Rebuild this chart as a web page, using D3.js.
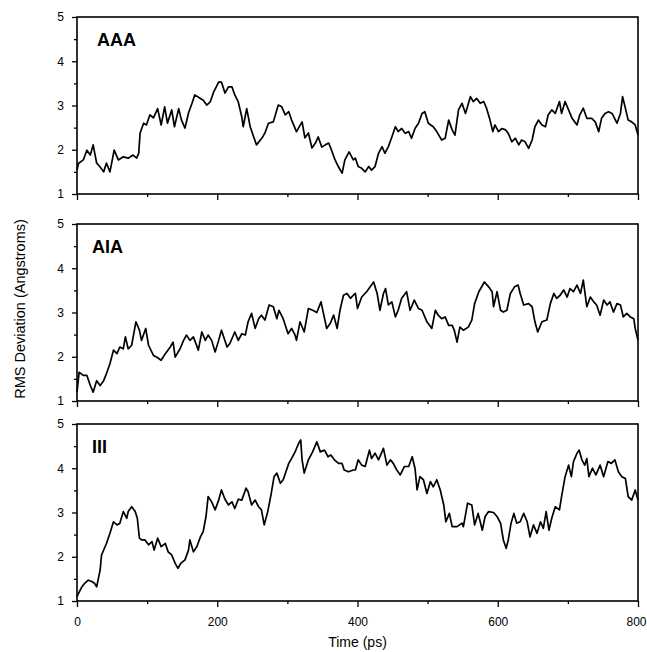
<!DOCTYPE html>
<html>
<head>
<meta charset="utf-8">
<script src="https://cdn.jsdelivr.net/npm/d3@7"></script>
<style>
  body { margin: 0; background: #fff; }
  svg { display: block; font-family: "Liberation Sans", Arial, Helvetica, sans-serif; }
  .axis path { display: none; }
  .axis line { stroke: #000; stroke-width: 1.3; }
  .axis text { font-size: 12px; fill: #000; }
</style>
</head>
<body>
<svg id="chart" width="647" height="652"></svg>
<script>
// RMS deviation traces (time in ps, RMSD in angstroms)
const timeAAA = [0,2,9,14,19,23,28,33,38,42,47,53,59,66,73,80,85,88,90,95,99,104,109,115,120,125,129,135,139,145,149,154,159,164,168,176,180,185,190,195,202,206,211,216,221,225,230,235,237,242,247,252,256,264,268,273,280,287,292,297,302,306,313,321,325,330,335,340,344,349,354,359,363,368,373,378,382,388,394,
  397,401,406,411,416,420,425,430,435,439,444,449,454,458,463,468,473,477,482,487,492,496,501,508,513,520,525,530,535,539,544,549,554,561,565,570,575,580,584,589,593,596,601,606,611,615,620,625,630,634,639,644,649,653,658,663,668,672,677,682,688,691,696,701,706,713,717,722,727,734,739,744,748,753,758,763,770,775,778,782,786,791,796,800];
const rmsAAA = [1.54,1.69,1.77,1.99,1.88,2.11,1.70,1.61,1.50,1.70,1.50,1.99,1.77,1.84,1.81,1.88,1.81,1.92,2.38,2.60,2.56,2.79,2.72,2.93,2.56,2.97,2.60,2.90,2.52,2.93,2.67,2.49,2.83,3.05,3.24,3.16,3.12,3.01,3.08,3.31,3.53,3.53,3.28,3.42,3.42,3.24,3.08,2.74,2.52,2.93,2.52,2.29,2.11,2.27,2.38,2.60,2.63,3.01,2.97,2.79,2.86,2.67,2.41,2.63,2.27,2.38,2.04,2.15,2.29,2.06,2.11,2.15,1.99,1.77,1.61,1.47,1.77,1.95,1.77,
  1.81,1.62,1.58,1.50,1.62,1.54,1.62,1.92,2.07,1.92,2.07,2.29,2.52,2.41,2.48,2.37,2.41,2.26,2.48,2.60,2.82,2.86,2.60,2.52,2.41,2.22,2.26,2.67,2.45,2.33,2.90,3.05,2.82,3.20,3.09,3.16,3.05,3.09,2.94,2.67,2.41,2.56,2.41,2.48,2.45,2.37,2.18,2.26,2.11,2.22,2.18,2.03,2.22,2.52,2.67,2.56,2.52,2.79,2.90,2.82,3.09,2.82,3.09,2.90,2.71,2.56,2.79,2.94,2.71,2.71,2.63,2.41,2.71,2.82,2.86,2.82,2.60,2.82,3.20,2.94,2.67,2.63,2.56,2.33];

const timeAIA = [0,3,9,14,19,23,28,33,38,42,47,52,57,61,66,69,73,78,84,89,92,98,102,109,114,120,126,133,137,140,147,152,156,161,166,173,178,183,187,192,197,202,206,214,218,225,230,235,240,244,249,254,259,263,268,274,280,285,288,294,301,306,311,313,318,324,330,336,342,348,352,356,361,366,371,375,380,385,390,394,
  397,400,406,413,423,428,432,437,440,444,449,454,458,463,470,475,481,487,492,499,506,511,515,520,525,530,535,538,542,546,551,558,563,567,573,581,587,592,594,599,604,608,613,618,624,629,632,637,644,649,653,657,663,670,675,680,684,689,694,699,703,708,713,718,722,727,732,737,741,746,751,756,760,765,770,775,779,784,789,794,796,800];
const rmsAIA = [1.20,1.65,1.58,1.58,1.35,1.20,1.46,1.35,1.46,1.62,1.84,2.15,2.07,2.22,2.18,2.45,2.18,2.26,2.79,2.60,2.37,2.64,2.26,2.03,1.99,1.92,2.07,2.22,2.33,1.99,2.18,2.37,2.49,2.37,2.45,2.15,2.56,2.37,2.49,2.37,2.11,2.37,2.60,2.22,2.30,2.56,2.37,2.52,2.49,2.79,2.98,2.64,2.86,2.94,2.83,3.17,3.13,2.86,3.05,2.86,2.52,2.64,2.49,2.37,2.79,2.56,3.09,3.05,3.00,3.24,2.94,2.64,2.75,2.94,2.64,3.05,3.39,3.43,3.32,3.39,
  3.43,3.09,3.35,3.47,3.69,3.43,3.05,3.43,3.54,3.17,3.24,2.90,3.05,3.32,3.47,3.05,3.28,3.09,3.05,2.79,2.64,3.05,2.94,2.86,2.90,2.71,2.71,2.60,2.33,2.67,2.60,2.67,2.83,3.20,3.47,3.69,3.58,3.47,3.13,3.47,3.05,3.01,3.05,3.43,3.58,3.62,3.43,3.17,3.20,3.13,2.79,2.56,2.79,2.83,3.20,3.43,3.32,3.39,3.51,3.35,3.54,3.47,3.62,3.43,3.73,3.13,3.35,3.24,3.17,2.94,3.28,3.17,3.24,3.01,3.20,3.17,2.90,2.98,2.90,2.86,2.64,2.37];

const timeIII = [0,2,7,11,16,21,25,28,33,35,42,47,52,57,61,66,71,73,78,83,86,89,92,97,102,107,110,115,120,126,130,135,140,144,148,154,159,161,166,171,176,180,184,187,192,197,202,206,211,216,221,225,230,235,241,244,249,254,259,263,267,272,277,281,285,290,294,302,306,311,316,319,321,324,330,336,342,347,353,358,362,367,373,378,381,387,394,
  397,401,406,411,417,420,425,430,437,442,447,451,456,461,467,473,478,482,485,489,494,499,504,508,513,518,523,526,531,535,542,549,551,557,563,567,572,575,578,582,587,594,599,604,608,612,615,619,623,627,632,637,642,646,651,656,661,665,669,673,677,682,688,691,696,701,705,708,713,716,720,724,727,730,735,740,746,751,757,762,767,772,777,782,786,791,796,800];
const rmsIII = [1.10,1.17,1.32,1.40,1.47,1.44,1.40,1.32,1.70,2.04,2.30,2.53,2.79,2.72,2.75,3.02,2.87,3.02,3.13,3.02,2.87,2.42,2.38,2.38,2.27,2.34,2.15,2.42,2.23,2.30,2.11,2.04,1.85,1.74,1.85,1.93,2.15,2.38,2.11,2.23,2.45,2.57,2.91,3.36,3.24,3.06,3.28,3.51,3.30,3.17,3.24,3.09,3.30,3.28,3.55,3.47,3.17,3.28,3.13,3.06,2.72,3.02,3.43,3.81,3.89,3.66,3.74,4.11,4.22,4.37,4.56,4.64,4.19,3.89,4.19,4.37,4.60,4.37,4.41,4.26,4.30,4.19,4.11,4.11,3.96,3.92,3.96,
  3.96,4.19,4.07,4.04,4.41,4.22,4.34,4.19,4.45,4.07,4.19,4.11,3.96,3.85,4.04,4.04,4.26,4.00,3.51,3.81,3.74,3.43,3.70,3.58,3.74,3.51,3.17,2.79,2.98,2.68,2.68,2.76,2.68,3.21,3.17,2.72,2.98,2.79,2.60,2.91,3.02,3.00,2.91,2.76,2.38,2.19,2.38,2.76,2.98,2.76,2.79,2.98,2.79,2.45,2.72,2.53,2.79,2.64,3.02,2.60,2.87,3.13,3.06,3.36,3.81,4.07,3.81,4.15,4.34,4.41,4.19,4.07,4.22,3.81,4.00,3.85,4.07,3.81,4.15,4.11,4.19,3.92,3.81,3.77,3.36,3.28,3.51,3.28];

const panelNames = ["AAA", "AIA", "III"];
const yMajorTicks = [1, 2, 3, 4, 5];
const yMinorTicks = [1.5, 2.5, 3.5, 4.5];
const xMajorTicks = [0, 200, 400, 600, 800];
const xMinorTicks = [100, 300, 500, 700];

const panels = [
  { name: panelNames[0], time: timeAAA, rms: rmsAAA, top: 17 },
  { name: panelNames[1], time: timeAIA, rms: rmsAIA, top: 224 },
  { name: panelNames[2], time: timeIII, rms: rmsIII, top: 424 }
];

const svg = d3.select("#chart");
const left = 77, right = 638, panelH = 177;

const x = d3.scaleLinear().domain([0, 800]).range([left, right]);

panels.forEach((p, i) => {
  const y = d3.scaleLinear().domain([1, 5]).range([p.top + panelH, p.top]);
  const g = svg.append("g");

  // y ticks
  g.append("g").attr("class", "axis")
    .attr("transform", `translate(${left},0)`)
    .call(d3.axisLeft(y).tickValues(yMinorTicks).tickSize(3).tickFormat(""));
  g.append("g").attr("class", "axis")
    .attr("transform", `translate(${left},0)`)
    .call(d3.axisLeft(y).tickValues(yMajorTicks).tickSize(5).tickPadding(8).tickFormat(d3.format("d")));

  // x ticks
  const bottom = p.top + panelH;
  g.append("g").attr("class", "axis")
    .attr("transform", `translate(0,${bottom})`)
    .call(d3.axisBottom(x).tickValues(xMinorTicks).tickSize(3).tickFormat(""));
  const xa = g.append("g").attr("class", "axis")
    .attr("transform", `translate(0,${bottom})`)
    .call(d3.axisBottom(x).tickValues(xMajorTicks).tickSize(6).tickPadding(10).tickFormat(d3.format("d")));
  if (i < panels.length - 1) {
    xa.selectAll("text").remove();
  } else {
    // keep the last label inside the page
    xa.selectAll("text").filter(d => d === 800).attr("dx", -2).attr("font-size", 11.5);
  }

  // frame
  g.append("rect")
    .attr("x", left).attr("y", p.top)
    .attr("width", right - left).attr("height", panelH)
    .attr("fill", "none").attr("stroke", "#000").attr("stroke-width", 1.6);

  const data = p.time.map((t, k) => [t, p.rms[k]]);
  g.append("path")
    .datum(data)
    .attr("fill", "none")
    .attr("stroke", "#000")
    .attr("stroke-width", 1.7)
    .attr("stroke-linejoin", "round")
    .attr("d", d3.line().x(d => x(d[0])).y(d => y(d[1])));

  g.append("text")
    .attr("x", left + (i === 0 ? 20 : 15))
    .attr("y", p.top + 29)
    .attr("font-size", 18)
    .attr("font-weight", "bold")
    .text(p.name);
});

svg.append("text")
  .attr("x", (left + right) / 2)
  .attr("y", 647)
  .attr("text-anchor", "middle")
  .attr("font-size", 14)
  .text("Time (ps)");

svg.append("text")
  .attr("transform", "translate(25,309) rotate(-90)")
  .attr("text-anchor", "middle")
  .attr("font-size", 14.5)
  .text("RMS Deviation (Angstroms)");
</script>
</body>
</html>
